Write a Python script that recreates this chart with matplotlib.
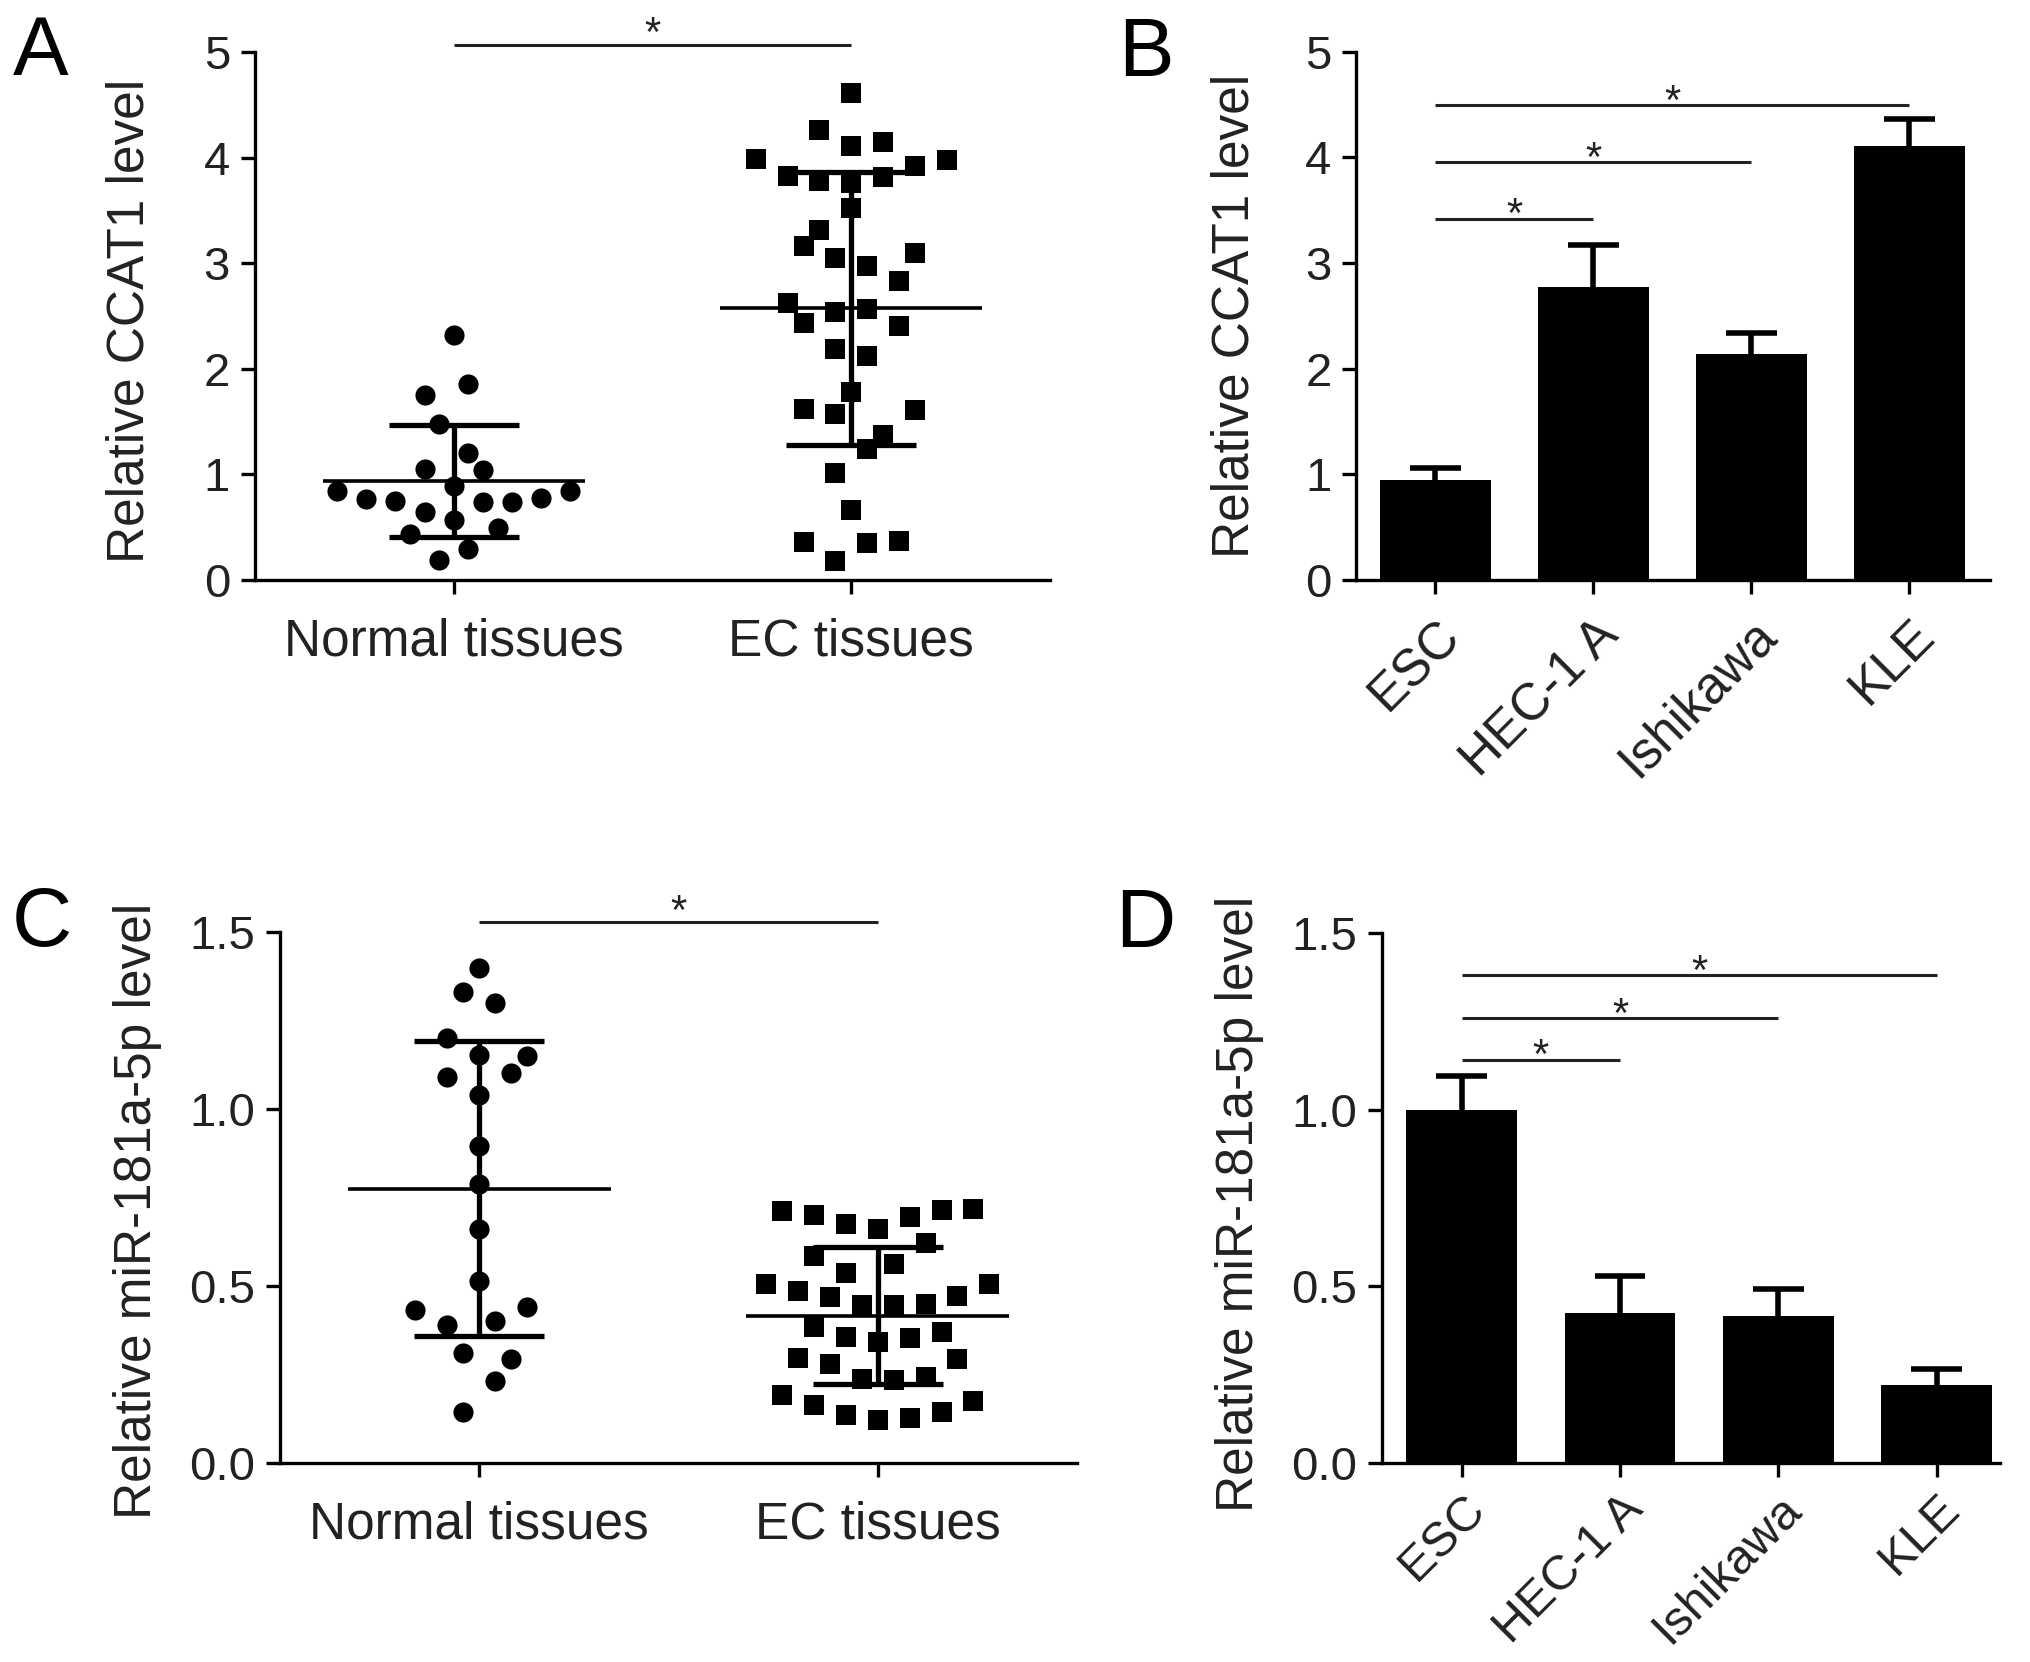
'''Four-panel figure: CCAT1 and miR-181a-5p levels in tissues and cell lines.'''

import numpy as np
import matplotlib
matplotlib.use('Agg')
import matplotlib.pyplot as plt

plt.rcParams['font.family'] = ['Liberation Sans', 'DejaVu Sans']

# ---- panel A: CCAT1 in tissues (scatter, mean +/- SD) ----
tissue_labels = ['Normal tissues', 'EC tissues']
ccat1_normal = [2.32, 1.75, 1.86, 1.48, 1.20, 1.05, 1.04, 0.89, 0.84, 0.77, 0.75,
                0.64, 0.74, 0.74, 0.78, 0.84, 0.57, 0.44, 0.49, 0.29, 0.19]
ccat1_normal_slot = [0, -2, 1, -1, 1, -2, 2, 0, -8, -6, -4,
                     -2, 2, 4, 6, 8, 0, -3, 3, 1, -1]
ccat1_ec = [4.61, 4.26, 4.11, 4.15, 3.99, 3.98, 3.92, 3.83, 3.78, 3.76, 3.82,
            3.52, 3.31, 3.16, 3.10, 3.05, 2.97, 2.83, 2.62, 2.54, 2.57, 2.43,
            2.41, 2.19, 2.12, 1.78, 1.62, 1.57, 1.61, 1.37, 1.24, 1.01, 0.66,
            0.36, 0.35, 0.37, 0.18]
ccat1_ec_slot = [0, -2, 0, 2, -6, 6, 4, -4, -2, 0, 2,
                 0, -2, -3, 4, -1, 1, 3, -4, -1, 1, -3,
                 3, -1, 1, 0, -3, -1, 4, 2, 1, -1, 0,
                 -3, 1, 3, -1]

# ---- panel C: miR-181a-5p in tissues ----
mir_normal = [1.398, 1.33, 1.30, 1.20, 1.152, 1.15, 1.09, 1.10, 1.04, 0.895, 0.788,
              0.659, 0.514, 0.432, 0.44, 0.388, 0.40, 0.309, 0.293, 0.231, 0.143]
mir_normal_slot = [0, -1, 1, -2, 0, 3, -2, 2, 0, 0, 0,
                   0, 0, -4, 3, -2, 1, -1, 2, 1, -1]
mir_ec = [0.710, 0.700, 0.675, 0.660, 0.694, 0.715, 0.717,
          0.622, 0.584, 0.561, 0.535,
          0.505, 0.485, 0.469, 0.446, 0.446, 0.448, 0.471, 0.504,
          0.382, 0.356, 0.342, 0.353, 0.370,
          0.295, 0.279, 0.292,
          0.235, 0.233, 0.243,
          0.191, 0.163, 0.134, 0.120, 0.125, 0.144, 0.174]
mir_ec_slot = [-6, -4, -2, 0, 2, 4, 6,
               3, -4, 1, -2,
               -7, -5, -3, -1, 1, 3, 5, 7,
               -4, -2, 0, 2, 4,
               -5, -3, 5,
               -1, 1, 3,
               -6, -4, -2, 0, 2, 4, 6]

# ---- panels B and D: cell lines (bar, mean + SD) ----
cell_lines = ['ESC', 'HEC-1 A', 'Ishikawa', 'KLE']
ccat1_cells = [0.95, 2.77, 2.14, 4.11]
ccat1_cells_err = [0.105, 0.40, 0.20, 0.255]
mir_cells = [1.00, 0.425, 0.415, 0.22]
mir_cells_err = [0.095, 0.104, 0.076, 0.045]

# significance brackets: (group a, group b, height)
sig_a = [(0, 1, 5.07)]
sig_b = [(0, 3, 4.49), (0, 2, 3.95), (0, 1, 3.42)]
sig_c = [(0, 1, 1.527)]
sig_d = [(0, 3, 1.38), (0, 2, 1.258), (0, 1, 1.14)]

SPINE_W = 2.4
TICK_FS = 34
LABEL_FS = 37


def style_axes(ax, ylim, yticks, yticklabels, ylabel, label_x, label_y):
    '''Prism-like axes: left and bottom spines only, outward ticks.'''
    for side in ['top', 'right']:
        ax.spines[side].set_visible(False)
    for side in ['left', 'bottom']:
        ax.spines[side].set_linewidth(SPINE_W)
    ax.set_ylim(*ylim)
    ax.set_yticks(yticks)
    ax.set_yticklabels(yticklabels, fontsize=TICK_FS)
    ax.tick_params(axis='both', direction='out', length=10, width=SPINE_W,
                   color='black')
    ax.tick_params(axis='y', pad=8)
    ax.set_ylabel(ylabel, fontsize=LABEL_FS, color='#222222')
    ax.yaxis.label.set_va('center')
    ax.yaxis.set_label_coords(label_x, label_y)
    for t in ax.get_yticklabels():
        t.set_color('#222222')


def draw_sig(ax, brackets, star_dy):
    for a, b, y in brackets:
        ax.plot([a, b], [y, y], color='#222222', lw=2.2, clip_on=False,
                solid_capstyle='butt')
        ax.annotate('*', xy=((a + b) / 2, y), xytext=(0, star_dy),
                    textcoords='offset points', ha='center', va='baseline',
                    fontsize=30, color='#222222', annotation_clip=False)


def scatter_panel(ax, groups, slots, markers, units):
    for i, (vals, slot, mk, unit) in enumerate(zip(groups, slots, markers, units)):
        vals = np.array(vals)
        xs = i + np.array(slot) * unit
        ax.plot(xs, vals, linestyle='none', marker=mk, markersize=14.5,
                color='black', markeredgewidth=0, zorder=3)
        mean = vals.mean()
        sd = vals.std(ddof=1)
        ax.hlines(mean, i - 0.33, i + 0.33, color='black', lw=2.6, zorder=4)
        ax.errorbar(i, mean, yerr=sd, fmt='none', ecolor='black', elinewidth=3.8,
                    capsize=47, capthick=3.8, zorder=4)
    ax.set_xlim(-0.5, 1.5)
    ax.set_xticks(range(len(groups)))
    ax.set_xticklabels(tissue_labels, fontsize=LABEL_FS, color='#222222')
    ax.tick_params(axis='x', pad=17)


def bar_panel(ax, values, errors, right, label_fs, label_pad):
    x = np.arange(len(values))
    tops = np.array(values) + np.array(errors)
    ax.bar(x, values, width=0.7, color='black', zorder=2)
    # upper error only: stem from bar top plus a cap
    ax.vlines(x, values, tops, color='black', lw=4, zorder=1)
    ax.hlines(tops, x - 0.16, x + 0.16, color='black', lw=4, zorder=1)
    ax.set_xlim(-0.5, right)
    ax.set_xticks(x)
    ax.set_xticklabels(cell_lines, fontsize=label_fs, rotation=45, ha='right',
                       va='top', rotation_mode='anchor', color='#222222')
    ax.tick_params(axis='x', pad=label_pad)


fig = plt.figure(figsize=(20.31, 16.62), dpi=100)
W, H = 2031.0, 1662.0


def axes_px(left, right, top, bottom):
    return fig.add_axes([left / W, 1 - bottom / H, (right - left) / W, (bottom - top) / H])


ax_a = axes_px(255, 1050, 52, 580)
ax_b = axes_px(1356.5, 1990, 51.5, 580)
ax_c = axes_px(280, 1077, 932, 1462.6)
ax_d = axes_px(1382.5, 2000, 933, 1462.6)

# A
scatter_panel(ax_a, [ccat1_normal, ccat1_ec], [ccat1_normal_slot, ccat1_ec_slot],
              ['o', 's'], [0.0367, 0.04])
style_axes(ax_a, (0, 5), range(6), [str(v) for v in range(6)],
           'Relative CCAT1 level', -0.157, 0.49)
draw_sig(ax_a, sig_a, -1)

# B
bar_panel(ax_b, ccat1_cells, ccat1_cells_err, 3.51, LABEL_FS, 12)
style_axes(ax_b, (0, 5), range(6), [str(v) for v in range(6)],
           'Relative CCAT1 level', -0.192, 0.5)
draw_sig(ax_b, sig_b, -6)

# C
scatter_panel(ax_c, [mir_normal, mir_ec], [mir_normal_slot, mir_ec_slot],
              ['o', 's'], [0.04, 0.04])
yt = [0.0, 0.5, 1.0, 1.5]
style_axes(ax_c, (0, 1.5), yt, ['%.1f' % v for v in yt],
           'Relative miR-181a-5p level', -0.179, 0.474)
draw_sig(ax_c, sig_c, -1)

# D
bar_panel(ax_d, mir_cells, mir_cells_err, 3.4, 35, 7)
style_axes(ax_d, (0, 1.5), yt, ['%.1f' % v for v in yt],
           'Relative miR-181a-5p level', -0.231, 0.489)
draw_sig(ax_d, sig_d, -6)

# panel letters
for letter, px, py in [('A', 13, 75), ('B', 1118, 76), ('C', 12, 946), ('D', 1115, 947)]:
    fig.text(px / W, 1 - py / H, letter, fontsize=60, ha='left', va='baseline')

fig.savefig('out.png', dpi=100)
